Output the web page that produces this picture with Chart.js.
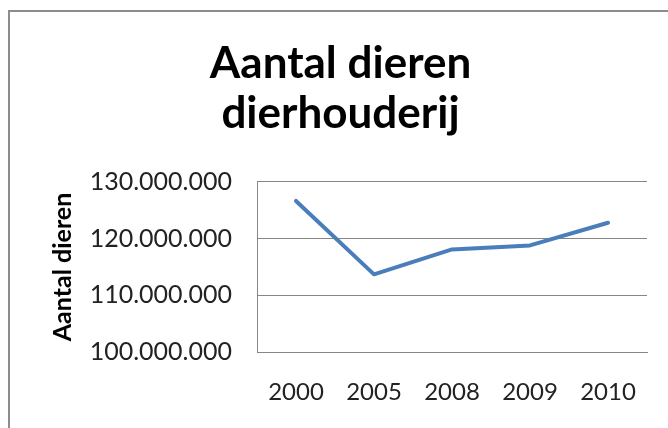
<!DOCTYPE html>
<html>
<head>
<meta charset="utf-8">
<script src="https://cdn.jsdelivr.net/npm/chart.js@4/dist/chart.umd.min.js"></script>
<style>
  html, body { margin: 0; padding: 0; background: #fff; overflow: hidden; }
  #frame { position: absolute; left: 8px; top: 10px; width: 700px; height: 500px; border: 2px solid #8c8c8c; }
  #chart { position: absolute; left: 0; top: 0; }
</style>
</head>
<body>
<div id="frame"></div>
<canvas id="chart" width="668" height="428"></canvas>
<script>
const years = ['2000', '2005', '2008', '2009', '2010'];
const animals = [126650000, 113700000, 118100000, 118800000, 122800000];
const titleLines = ['Aantal dieren', 'dierhouderij'];
const yAxisTitle = 'Aantal dieren';

// 130000000 -> "130.000.000"
const formatNL = v => String(v).replace(/\B(?=(\d{3})+(?!\d))/g, '.');

const ctx = document.getElementById('chart').getContext('2d');
new Chart(ctx, {
  type: 'line',
  data: {
    labels: years,
    datasets: [{
      label: yAxisTitle,
      data: animals,
      borderColor: '#4a7ebb',
      borderWidth: 4,
      borderJoinStyle: 'round',
      borderCapStyle: 'round',
      pointRadius: 0,
      tension: 0,
      fill: false
    }]
  },
  options: {
    responsive: false,
    devicePixelRatio: 1,
    animation: false,
    layout: { padding: { left: 34, right: 21, top: 0, bottom: 0 } },
    scales: {
      x: {
        offset: true,
        grid: { display: false, drawTicks: false },
        border: { display: true, color: '#868686', width: 1 },
        ticks: {
          color: '#222',
          padding: 26,
          maxRotation: 0,
          font: { family: 'Lato', size: 24 }
        },
        afterFit: scale => { scale.height = 76; }
      },
      y: {
        min: 100000000,
        max: 130000000,
        grid: { color: '#868686', drawTicks: false },
        border: { display: true, color: '#868686', width: 1 },
        ticks: {
          stepSize: 10000000,
          color: '#222',
          padding: 25,
          font: { family: 'Lato', size: 25 },
          callback: v => formatNL(v)
        },
        title: {
          display: true,
          text: yAxisTitle,
          color: '#000',
          padding: { top: 14, bottom: 0 },
          font: { family: 'Lato', size: 25, weight: 'bold' }
        },
        afterFit: scale => { scale.width = 223; }
      }
    },
    plugins: {
      legend: { display: false },
      tooltip: { enabled: false },
      title: {
        display: true,
        text: titleLines,
        color: '#000',
        padding: { top: 39, bottom: 43 },
        font: { family: 'Lato', size: 44, weight: 'bold', lineHeight: 1.136 }
      }
    }
  }
});
</script>
</body>
</html>
